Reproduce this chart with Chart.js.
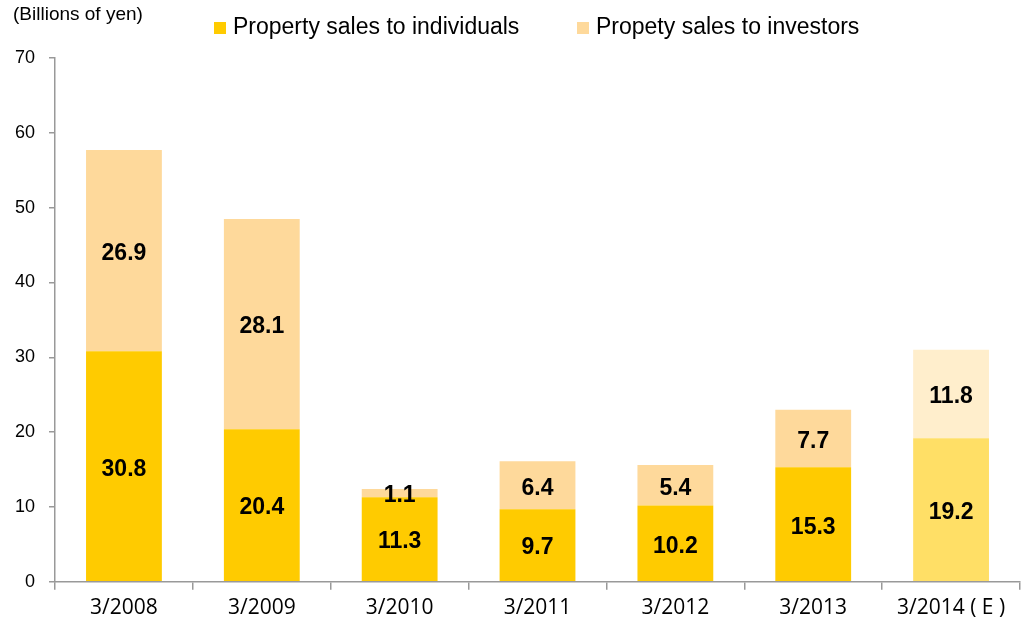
<!DOCTYPE html>
<html>
<head>
<meta charset="utf-8">
<script src="https://cdn.jsdelivr.net/npm/chart.js@4/dist/chart.umd.min.js"></script>
<style>
  html, body { margin: 0; padding: 0; background: #fff; }
  #wrap { width: 1024px; height: 620px; position: relative; }
</style>
</head>
<body>
<div id="wrap"><canvas id="salesChart"></canvas></div>
<script>
const categories = ['3/2008', '3/2009', '3/2010', '3/2011', '3/2012', '3/2013', '3/2014 ( E )'];
const individuals = [30.8, 20.4, 11.3, 9.7, 10.2, 15.3, 19.2];
const investors = [26.9, 28.1, 1.1, 6.4, 5.4, 7.7, 11.8];
const yTicks = [0, 10, 20, 30, 40, 50, 60, 70];

// last bar is an estimate, drawn in lighter tones
const indColors = ['#FFCB00', '#FFCB00', '#FFCB00', '#FFCB00', '#FFCB00', '#FFCB00', '#FFDF66'];
const invColors = ['#FED99B', '#FED99B', '#FED99B', '#FED99B', '#FED99B', '#FED99B', '#FFEECC'];

const FONT = "'Liberation Sans', Arial, sans-serif";

const segmentLabels = {
    id: 'segmentLabels',
    afterDatasetsDraw(chart) {
        const ctx = chart.ctx;
        ctx.save();
        ctx.font = 'bold 23px ' + FONT;
        ctx.fillStyle = '#000';
        ctx.textAlign = 'center';
        ctx.textBaseline = 'middle';
        chart.data.datasets.forEach((ds, i) => {
            chart.getDatasetMeta(i).data.forEach((bar, j) => {
                const y = (bar.y + bar.base) / 2;
                ctx.fillText(ds.data[j].toFixed(1), bar.x, y + 3);
            });
        });
        ctx.restore();
    }
};

// unit caption and the legend row above the plot
const header = {
    id: 'header',
    afterDraw(chart) {
        const ctx = chart.ctx;
        ctx.save();
        ctx.fillStyle = '#000';
        ctx.font = '19px ' + FONT;
        ctx.textBaseline = 'middle';
        ctx.fillText('(Billions of yen)', 13, 15);

        const legendX = [214, 577];
        ctx.font = '23px ' + FONT;
        ctx.textBaseline = 'alphabetic';
        chart.data.datasets.forEach((ds, i) => {
            ctx.fillStyle = ds.backgroundColor[0];
            ctx.fillRect(legendX[i], 22, 12, 12);
            ctx.fillStyle = '#000';
            ctx.fillText(ds.label, legendX[i] + 19, 34);
        });
        ctx.restore();
    }
};

new Chart(document.getElementById('salesChart'), {
    type: 'bar',
    data: {
        labels: categories,
        datasets: [
            {
                label: 'Property sales to individuals',
                data: individuals,
                backgroundColor: indColors,
                categoryPercentage: 1,
                barPercentage: 0.55
            },
            {
                label: 'Propety sales to investors',
                data: investors,
                backgroundColor: invColors,
                categoryPercentage: 1,
                barPercentage: 0.55
            }
        ]
    },
    options: {
        responsive: true,
        maintainAspectRatio: false,
        animation: false,
        layout: { padding: { top: 58, right: 4, left: 1, bottom: -7 } },
        plugins: {
            legend: { display: false },
            tooltip: { enabled: false }
        },
        scales: {
            x: {
                stacked: true,
                grid: {
                    offset: true,
                    drawOnChartArea: false,
                    tickLength: 8,
                    color: '#999',
                    lineWidth: 1.5
                },
                border: { color: '#999', width: 1.5 },
                ticks: {
                    color: '#000',
                    font: { size: 21, family: "'Open Sans', 'Liberation Sans', sans-serif" },
                    padding: 6,
                    maxRotation: 0
                }
            },
            y: {
                stacked: true,
                min: 0,
                max: 70,
                afterBuildTicks: axis => { axis.ticks = yTicks.map(v => ({ value: v })); },
                grid: {
                    drawOnChartArea: false,
                    tickLength: 6,
                    color: '#999',
                    lineWidth: 1.5
                },
                border: { color: '#999', width: 1.5 },
                ticks: {
                    color: '#000',
                    font: { size: 18, family: FONT },
                    padding: 14
                }
            }
        }
    },
    plugins: [segmentLabels, header]
});
</script>
</body>
</html>
